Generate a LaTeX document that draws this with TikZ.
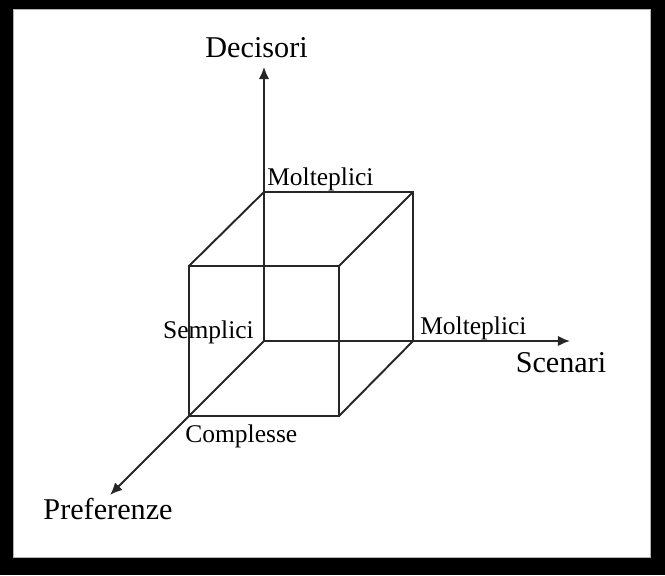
\documentclass[tikz,border=0pt]{standalone}
\usepackage{fontspec}
\setmainfont{Liberation Serif}
\usetikzlibrary{arrows.meta}
\tikzset{
  axis/.style={draw=black!85,line width=1.1pt,-{Latex[length=7pt,width=6pt]}},
  edge/.style={draw=black!85,line width=1.1pt},
  biglabel/.style={font=\fontsize{17.3}{18}\selectfont,inner sep=0pt},
  smalllabel/.style={font=\fontsize{14.6}{15}\selectfont,inner sep=0pt}
}
\begin{document}
\begin{tikzpicture}
\fill[black](-5.315,-4.711)rectangle(8.073,6.865);
\useasboundingbox(-5.315,-4.711)rectangle(8.073,6.865);
\draw[fill=white,draw=black!30,line width=0.6pt](-5.05,-4.35)rectangle(7.79,6.68);
% corners of the cube
\coordinate (O) at (0,0);
\coordinate (b1) at (3,0);
\coordinate (b2) at (3,3);
\coordinate (b3) at (0,3);
\coordinate (f0) at (-1.51,-1.51);
\coordinate (f1) at (1.51,-1.51);
\coordinate (f2) at (1.51,1.51);
\coordinate (f3) at (-1.51,1.51);
% ends of the axes
\coordinate (yend) at (0,5.52);
\coordinate (xend) at (6.16,0);
\coordinate (zend) at (-3.1,-3.1);
\draw[edge](b1)--(b2)--(b3);
\draw[edge](f0)--(f1)--(f2)--(f3)--cycle;
\draw[edge](b1)--(f1);
\draw[edge](b2)--(f2);
\draw[edge](b3)--(f3);
\draw[axis](O)--(yend);
\draw[axis](O)--(xend);
\draw[axis](O)--(zend);
\node[biglabel,anchor=base] (dec) at (-0.15,5.70) {Decisori};
\node[biglabel,anchor=base] (sce) at (5.98,-0.644) {Scenari};
\node[biglabel,anchor=base] (pre) at (-3.14,-3.60) {Preferenze};
\node[smalllabel,anchor=base west] (molt1) at (0.06,3.14) {Molteplici};
\node[smalllabel,anchor=base west] (molt2) at (3.14,0.14) {Molteplici};
\node[smalllabel,anchor=base east] (semp) at (-0.2,0.06) {Semplici};
\node[smalllabel,anchor=base west] (comp) at (-1.59,-2.05) {Complesse};
\end{tikzpicture}
\end{document}
